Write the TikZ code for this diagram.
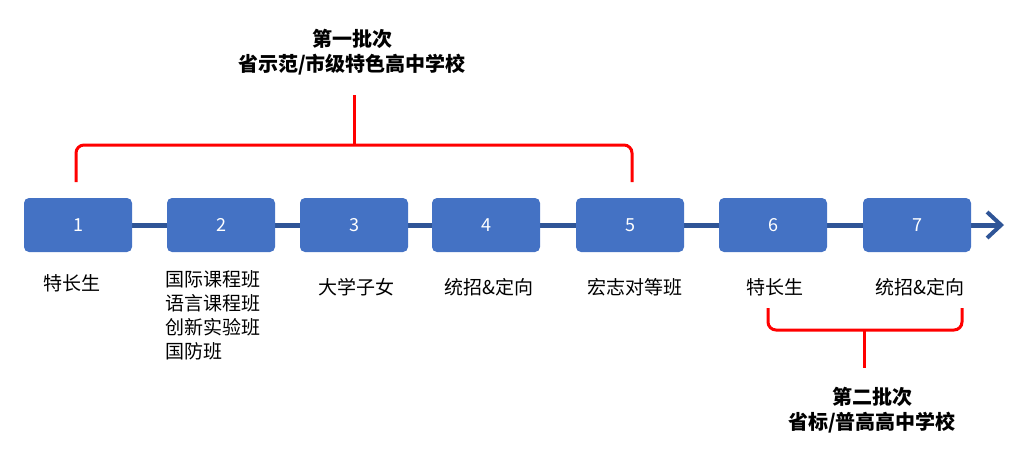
\documentclass[tikz,border=0pt]{standalone}
\usepackage{fontspec}
\setmainfont{Noto Sans CJK SC}
\usetikzlibrary{arrows.meta}
\begin{document}
\begin{tikzpicture}[x=1pt,y=-1pt,
  box/.style={draw=none,fill=boxblue,rounded corners=5pt,minimum width=108pt,minimum height=54pt,text=white,font=\fontsize{18}{20}\selectfont},
  lab/.style={font=\fontsize{19}{24}\selectfont,inner sep=0pt},
  ttl/.style={font=\bfseries\fontsize{20}{25}\selectfont,inner sep=0pt,align=center},
  brace/.style={draw=red,line width=3pt,rounded corners=8pt}]
\definecolor{boxblue}{HTML}{4472C4}
\definecolor{lineblue}{HTML}{2F5597}
\useasboundingbox (0,0) rectangle (1024,466);
\coordinate (end) at (1004,225);
\draw[lineblue,line width=5pt,-{Straight Barb[length=14pt,width=26pt,line width=4pt]}] (132,225) -- (end);
\foreach \n/\x in {1/78,2/221,3/354,4/486,5/630,6/773,7/917}
  \node[box] (b\n) at (\x,225) {\n};
\node[lab,anchor=west] (l1) at (43,283) {特长生};
\node[lab,anchor=north west,align=left] (l2) at (165,270) {国际课程班\\语言课程班\\创新实验班\\国防班};
\node[lab] (l3) at (356,287) {大学子女};
\node[lab] (l4) at (489,287) {统招\&定向};
\node[lab] (l5) at (635,287) {宏志对等班};
\node[lab] (l6) at (775,287) {特长生};
\node[lab] (l7) at (920,287) {统招\&定向};
\draw[brace] (76,182) -- (76,145) -- (354,145) -- (632,145) -- (632,182);
\draw[red,line width=3pt] (354,146) -- (354,95);
\node[ttl] (t1) at (352,52) {第一批次\\省示范/市级特色高中学校};
\draw[brace] (768,308) -- (768,330) -- (864,330) -- (962,330) -- (962,308);
\draw[red,line width=3pt] (864,329) -- (864,368);
\node[ttl] (t2) at (872,410) {第二批次\\省标/普高高中学校};
\end{tikzpicture}
\end{document}
